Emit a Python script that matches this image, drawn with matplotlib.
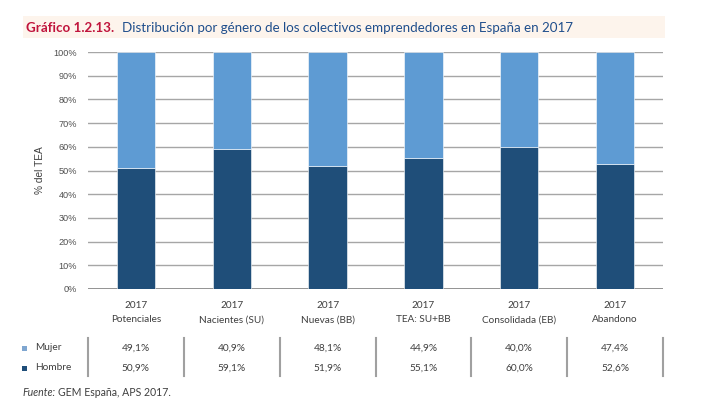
import matplotlib
matplotlib.use("Agg")
import matplotlib.pyplot as plt
from matplotlib.patches import Rectangle
import matplotlib.transforms as mtransforms

categories = ["Potenciales", "Nacientes (SU)", "Nuevas (BB)", "TEA: SU+BB", "Consolidada (EB)", "Abandono"]
year = "2017"
mujer = [49.1, 40.9, 48.1, 44.9, 40.0, 47.4]
hombre = [50.9, 59.1, 51.9, 55.1, 60.0, 52.6]
series_names = ["Mujer", "Hombre"]
yticks = [0, 10, 20, 30, 40, 50, 60, 70, 80, 90, 100]

c_muj = "#5E9BD3"
c_hom = "#1F4E79"
txt = "#3F3F3F"
FONT = "Lato"

fig = plt.figure(figsize=(7.19, 4.03), dpi=100)
W, H = 719, 403

def fx(px):
    return px / W

def fy(py):
    return 1 - py / H

# title band
fig.patches.append(Rectangle((fx(23), fy(38)), fx(665) - fx(23), (38 - 16) / H,
                             transform=fig.transFigure, facecolor="#FDF4EC", edgecolor="none", zorder=0))
t1 = fig.text(fx(26), fy(27.5), "Gráfico 1.2.13.", color="#C0143C", fontsize=9.6,
              fontweight="bold", family=FONT, va="center", ha="left")
fig.canvas.draw()
bb = t1.get_window_extent()
fig.text(bb.x1 / W + fx(8), fy(27.5), "Distribución por género de los colectivos emprendedores en España en 2017",
         color="#1F4E8C", fontsize=9.6, family=FONT, va="center", ha="left")

ax = fig.add_axes([fx(88), fy(289), fx(663) - fx(88), (289 - 52) / H])
x = list(range(len(categories)))
ax.bar(x, hombre, width=0.4, color=c_hom, edgecolor="white", linewidth=0.4, zorder=3, label=series_names[1])
ax.bar(x, mujer, width=0.4, bottom=hombre, color=c_muj, edgecolor="white", linewidth=0.4, zorder=3, label=series_names[0])
ax.set_xlim(-0.5, len(categories) - 0.5)
ax.set_ylim(0, 100)
ax.set_yticks(yticks)
ax.set_yticklabels([f"{v}%" for v in yticks], family="Liberation Sans", fontsize=6.6, color="#505050")
ax.yaxis.grid(True, color="#A6A6A6", linewidth=1.0, zorder=0)
ax.set_axisbelow(True)
for s in ax.spines.values():
    s.set_visible(False)
ax.axhline(0, color="#8C8C8C", linewidth=1.3, zorder=2)
ax.tick_params(axis="y", length=0, pad=8)
ax.tick_params(axis="x", length=0, pad=9)
ax.set_xticks(x)
ax.set_xticklabels([f"{year}\n{c}" for c in categories], family=FONT, fontsize=7.2, color=txt, linespacing=1.7)
ax.set_ylabel("% del TEA", family="Liberation Sans", fontsize=7.3, color=txt, labelpad=6)

# table below
trans = mtransforms.blended_transform_factory(ax.transData, fig.transFigure)
rows = [(series_names[0], mujer, c_muj, 348), (series_names[1], hombre, c_hom, 368)]
for name, vals, col, py in rows:
    fig.patches.append(Rectangle((fx(22), fy(py) - 2.5 / H), 5 / W, 5 / H, transform=fig.transFigure,
                                 facecolor=col if name == "Hombre" else "#7FA6D0", edgecolor="none"))
    fig.text(fx(35), fy(py), name, family=FONT, fontsize=7.3, color=txt, va="center", ha="left")
    for xi, v in zip(x, vals):
        fig.text(xi, fy(py), f"{v:.1f}%".replace(".", ","), transform=trans, family=FONT,
                 fontsize=7.3, color=txt, va="center", ha="center")
for b in range(len(categories) + 1):
    xb = b - 0.5
    fig.add_artist(plt.Line2D([xb, xb], [fy(338), fy(376)], transform=trans, color="#A0A0A0", linewidth=1.5))

t = fig.text(fx(22), fy(392), "Fuente:", family=FONT, fontsize=7.6, style="italic", color=txt, va="center", ha="left")
fig.canvas.draw()
bb = t.get_window_extent()
fig.text(bb.x1 / W + fx(3), fy(392), "GEM España, APS 2017.", family=FONT, fontsize=7.6, color=txt, va="center", ha="left")

fig.savefig("out.png", dpi=100)
